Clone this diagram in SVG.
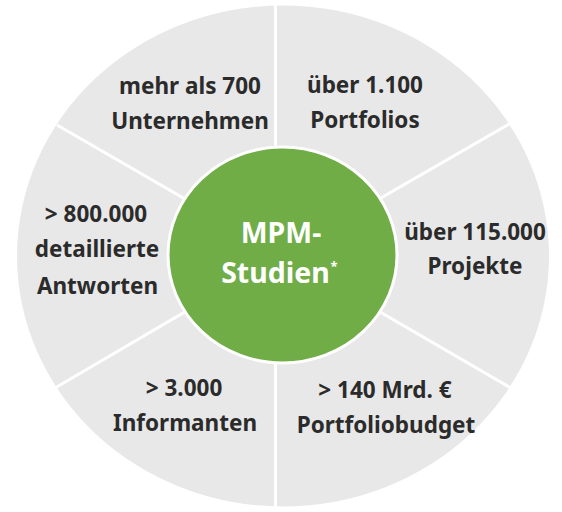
<svg xmlns="http://www.w3.org/2000/svg" width="562" height="512" viewBox="0 0 562 512">
  <style>
    .lbl { font-family: "Noto Sans", "Open Sans", "Liberation Sans", sans-serif; font-weight: bold; font-size: 22.5px; fill: #2b2b2b; text-anchor: middle; }
    .ctr { font-family: "Noto Sans", "Open Sans", "Liberation Sans", sans-serif; font-weight: bold; font-size: 28.5px; fill: #ffffff; text-anchor: middle; }
    .sup { font-family: "Noto Sans", "Open Sans", "Liberation Sans", sans-serif; font-weight: bold; font-size: 13px; fill: #ffffff; text-anchor: middle; }
    .div { stroke: #ffffff; stroke-width: 3; fill: none; }
  </style>
  <rect width="562" height="512" fill="#ffffff"/>
  <g id="ring">
    <ellipse cx="283" cy="256" rx="266" ry="250.5" fill="#e8e8e8"/>
  </g>
  <g id="connectors">
    <line class="div" x1="275.5" y1="0" x2="275.5" y2="256"/>
    <line class="div" x1="275.5" y1="256" x2="275.5" y2="512"/>
    <line class="div" x1="57" y1="125" x2="282" y2="255"/>
    <line class="div" x1="511" y1="123" x2="282" y2="255"/>
    <line class="div" x1="55" y1="388" x2="282" y2="255"/>
    <line class="div" x1="511" y1="388" x2="282" y2="255"/>
  </g>
  <g id="center">
    <ellipse cx="282.5" cy="255" rx="114.5" ry="108" fill="#70ad47" stroke="#ffffff" stroke-width="3"/>
    <text class="ctr" x="281" y="243">MPM-</text>
    <text class="ctr" x="275.5" y="283">Studien</text>
    <text class="sup" x="334" y="271">*</text>
  </g>
  <g id="unternehmen">
    <text class="lbl" x="190" y="94">mehr als 700</text>
    <text class="lbl" x="190" y="129">Unternehmen</text>
  </g>
  <g id="portfolios">
    <text class="lbl" x="365" y="93">über 1.100</text>
    <text class="lbl" x="365" y="128">Portfolios</text>
  </g>
  <g id="projekte">
    <text class="lbl" x="475" y="240">über 115.000</text>
    <text class="lbl" x="475" y="274">Projekte</text>
  </g>
  <g id="budget">
    <text class="lbl" x="385" y="398">&gt; 140 Mrd. €</text>
    <text class="lbl" x="386" y="433">Portfoliobudget</text>
  </g>
  <g id="informanten">
    <text class="lbl" x="184" y="395.5">&gt; 3.000</text>
    <text class="lbl" x="185" y="431">Informanten</text>
  </g>
  <g id="antworten">
    <text class="lbl" x="96" y="221.5">&gt; 800.000</text>
    <text class="lbl" x="97" y="257">detaillierte</text>
    <text class="lbl" x="97.5" y="294">Antworten</text>
  </g>
</svg>
